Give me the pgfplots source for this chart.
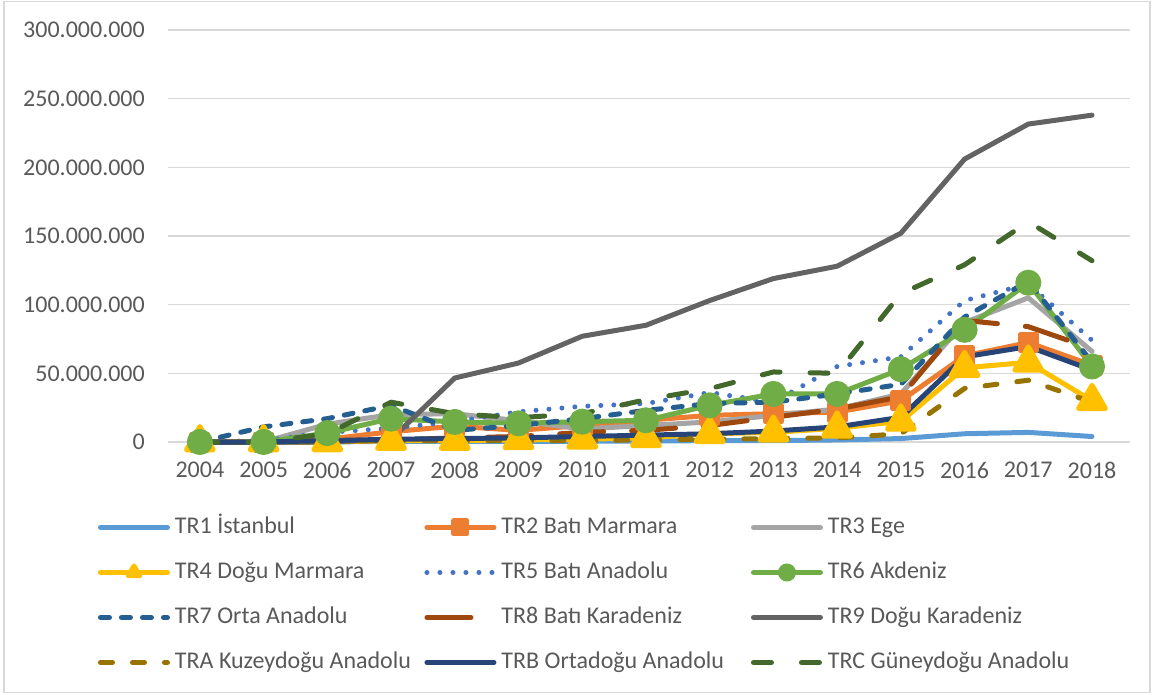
\documentclass[border=0pt]{standalone}
\usepackage{pgfplots}
\pgfplotsset{compat=1.18}
\usepackage{fontspec}
\setmainfont{Carlito}
\definecolor{cTRa}{HTML}{5B9BD5}
\definecolor{cTRb}{HTML}{ED7D31}
\definecolor{cTRc}{HTML}{A5A5A5}
\definecolor{cTRd}{HTML}{FFC000}
\definecolor{cTRe}{HTML}{4472C4}
\definecolor{cTRf}{HTML}{70AD47}
\definecolor{cTRg}{HTML}{255E91}
\definecolor{cTRh}{HTML}{9E480E}
\definecolor{cTRi}{HTML}{636363}
\definecolor{cTRj}{HTML}{997300}
\definecolor{cTRk}{HTML}{264478}
\definecolor{cTRl}{HTML}{43682B}
\definecolor{gridc}{HTML}{D9D9D9}
\definecolor{txt}{HTML}{595959}
\newcommand{\LE}[1]{\makebox[249.5pt][l]{#1}}
\begin{document}
\begin{tikzpicture}[font=\fontsize{24}{28}\selectfont]
\useasboundingbox (0pt,0pt) rectangle (1154pt,694pt);
\draw[gridc, line width=1.2pt] (4pt,1.5pt) rectangle (1150pt,692.5pt);
\begin{axis}[
  at={(168pt,252pt)}, anchor=south west,
  width=962pt, height=412pt, scale only axis,
  xmin=2003.5, xmax=2018.596, ymin=0, ymax=300,
  clip=false,
  axis line style={draw=none},
  major tick length=0pt,
  ymajorgrids, grid style={gridc, line width=1.5pt},
  xtick={2004,2005,2006,2007,2008,2009,2010,2011,2012,2013,2014,2015,2016,2017,2018},
  xticklabels={2004,2005,2006,2007,2008,2009,2010,2011,2012,2013,2014,2015,2016,2017,2018},
  ytick={0,50,100,150,200,250,300},
  yticklabels={0,50.000.000,100.000.000,150.000.000,200.000.000,250.000.000,300.000.000},
  tick label style={text=txt},
  xticklabel style={inner sep=0pt, yshift=-20pt},
  yticklabel style={inner sep=0pt, xshift=-23pt},
  every axis plot/.append style={line width=5pt, line join=round, line cap=round},
  legend columns=3,
  legend cell align=left,
  legend style={at={(-0.0728,-0.1808)}, anchor=north west, draw=none, fill=none,
    inner sep=0pt, outer sep=0pt, row sep=23pt, column sep=0pt,
    nodes={inner sep=0pt, text height=17pt, text depth=5pt, text=txt},
    /tikz/every odd column/.append style={column sep=5pt}},
  legend image code/.code={\draw[mark repeat=2,mark phase=2,#1] plot coordinates {(2.5pt,0pt) (36pt,0pt) (69.5pt,0pt)};},
  legend image post style={mark size=6.5pt},
]
% TR1
\addplot[cTRa, solid] coordinates {(2004,0)(2005,0)(2006,0)(2007,0.5)(2008,0.5)(2009,0.5)(2010,0.5)(2011,0.7)(2012,1)(2013,1)(2014,1.5)(2015,2.5)(2016,6)(2017,7)(2018,4)};
\addlegendentry{\LE{TR1 İstanbul}}
% TR2
\addplot[cTRb, solid, mark=square*, mark size=8pt, mark options={solid, fill=cTRb, draw=none}] coordinates {(2004,0)(2005,0)(2006,2)(2007,7.5)(2008,11.5)(2009,8.5)(2010,12)(2011,15.8)(2012,19.4)(2013,20.6)(2014,21.8)(2015,30)(2016,62.7)(2017,72.4)(2018,56)};
\addlegendentry{\LE{TR2 Batı Marmara}}
% TR3
\addplot[cTRc, solid] coordinates {(2004,0)(2005,0)(2006,13)(2007,20)(2008,20.6)(2009,15.5)(2010,9.5)(2011,12)(2012,14.6)(2013,19.4)(2014,24)(2015,35)(2016,87)(2017,105)(2018,66)};
\addlegendentry{\LE{TR3 Ege}}
% TR4
\addplot[cTRd, solid, mark=triangle*, mark size=15.5pt, mark options={solid, fill=cTRd, draw=none}] coordinates {(2004,0)(2005,0)(2006,0)(2007,1)(2008,1)(2009,1.5)(2010,2)(2011,3)(2012,6)(2013,7)(2014,10)(2015,15)(2016,54)(2017,58)(2018,30)};
\addlegendentry{\LE{TR4 Doğu Marmara}}
% TR5
\addplot[cTRe, dash pattern=on 0pt off 13pt] coordinates {(2004,0)(2005,1)(2006,7)(2007,10)(2008,14.8)(2009,22)(2010,26)(2011,28)(2012,36)(2013,29)(2014,55)(2015,62)(2016,103)(2017,115)(2018,74)};
\addlegendentry{\LE{TR5 Batı Anadolu}}
% TR6
\addplot[cTRf, solid, mark=*, mark size=10.5pt, mark options={solid, fill=cTRf, draw=none}] coordinates {(2004,0)(2005,0)(2006,6.5)(2007,17)(2008,14.6)(2009,13.6)(2010,14.8)(2011,15.8)(2012,26.7)(2013,35)(2014,35)(2015,53)(2016,81.7)(2017,116)(2018,55)};
\addlegendentry{\LE{TR6 Akdeniz}}
% TR7
\addplot[cTRg, dash pattern=on 9pt off 12pt] coordinates {(2004,0)(2005,11)(2006,17)(2007,26.7)(2008,8.5)(2009,12)(2010,17)(2011,23)(2012,28)(2013,29)(2014,35)(2015,42)(2016,91)(2017,117)(2018,58)};
\addlegendentry{\LE{TR7 Orta Anadolu}}
% TR8
\addplot[cTRh, dash pattern=on 44pt off 28pt] coordinates {(2004,0)(2005,0)(2006,0.5)(2007,1.5)(2008,3)(2009,4)(2010,7)(2011,8.5)(2012,12)(2013,18)(2014,24)(2015,33)(2016,88.5)(2017,84)(2018,68)};
\addlegendentry{\LE{TR8 Batı Karadeniz}}
% TR9
\addplot[cTRi, solid] coordinates {(2004,0)(2005,0)(2006,0)(2007,2)(2008,46.6)(2009,57.5)(2010,77)(2011,85)(2012,103)(2013,119)(2014,128)(2015,152)(2016,206)(2017,231.5)(2018,238)};
\addlegendentry{\LE{TR9 Doğu Karadeniz}}
% TRA
\addplot[cTRj, dash pattern=on 12pt off 20pt] coordinates {(2004,0)(2005,0)(2006,0.5)(2007,1)(2008,1)(2009,1)(2010,1)(2011,1.5)(2012,2)(2013,2.5)(2014,3)(2015,6)(2016,39)(2017,45)(2018,29)};
\addlegendentry{\LE{TRA Kuzeydoğu Anadolu}}
% TRB
\addplot[cTRk, solid] coordinates {(2004,0)(2005,0)(2006,1)(2007,2)(2008,2.5)(2009,3)(2010,4)(2011,5)(2012,6)(2013,8)(2014,11)(2015,18)(2016,62)(2017,69.5)(2018,52.4)};
\addlegendentry{\LE{TRB Ortadoğu Anadolu}}
% TRC
\addplot[cTRl, dash pattern=on 18pt off 30pt] coordinates {(2004,0)(2005,0)(2006,6)(2007,29)(2008,20.6)(2009,17.7)(2010,20.6)(2011,30.8)(2012,38.8)(2013,51)(2014,50)(2015,108)(2016,129)(2017,160.4)(2018,132)};
\addlegendentry{\LE{TRC Güneydoğu Anadolu}}
\end{axis}
\end{tikzpicture}
\end{document}
